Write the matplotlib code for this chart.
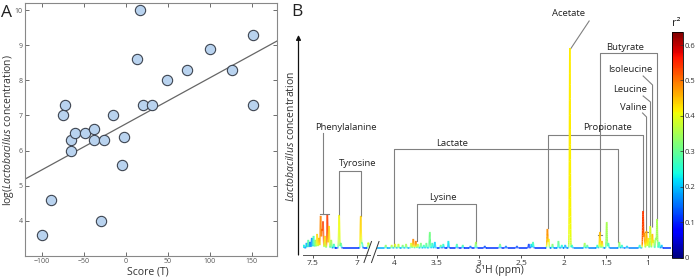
import numpy as np
import matplotlib
matplotlib.use('Agg')
import matplotlib.pyplot as plt
from matplotlib.collections import LineCollection
from matplotlib import colors as mcolors
from matplotlib.cm import ScalarMappable

plt.rcParams['font.family'] = ['Open Sans', 'DejaVu Sans']
plt.rcParams['mathtext.fontset'] = 'custom'
plt.rcParams['mathtext.rm'] = 'Open Sans'
plt.rcParams['mathtext.it'] = 'Open Sans:italic'

# ---------------- Panel A data ----------------
score_t = [-100, -89, -75, -72, -65, -65, -61, -48, -38, -38, -29, -26, -15, -5, -2,
           13, 17, 21, 31, 49, 73, 100, 126, 152, 152]
log_lacto = [3.6, 4.6, 7.0, 7.3, 6.3, 6.0, 6.5, 6.5, 6.6, 6.3, 4.0, 6.3, 7.0, 5.6, 6.4,
             8.6, 10.0, 7.3, 7.3, 8.0, 8.3, 8.9, 8.3, 9.3, 7.3]
fit_slope = 0.0131
fit_intercept = 6.76
a_xticks = [-100, -50, 0, 50, 100, 150]
a_yticks = [4, 5, 6, 7, 8, 9, 10]

# ---------------- Panel B data (intensity: acetate = 200) ----------------
left_peak_ppm = [7.60, 7.57, 7.55, 7.53, 7.51, 7.49, 7.47, 7.45, 7.43, 7.41, 7.395, 7.383,
                 7.36, 7.334, 7.315, 7.29, 7.26, 7.20, 7.18, 6.955, 6.94, 6.87, 6.86]
left_peak_height = [3, 5, 8, 6, 10, 12, 8, 14, 10, 32, 18, 26,
                    12, 33, 22, 8, 4, 33, 5, 32, 5, 5, 3]
left_peak_r2 = [0.25, 0.20, 0.30, 0.15, 0.17, 0.28, 0.35, 0.45, 0.48, 0.50, 0.52, 0.55,
                0.45, 0.55, 0.45, 0.38, 0.30, 0.42, 0.35, 0.45, 0.30, 0.47, 0.40]

right_peak_ppm = [4.10, 4.03, 3.99, 3.95, 3.90, 3.86, 3.80, 3.775, 3.745, 3.72, 3.685, 3.65,
                  3.62, 3.58, 3.55, 3.52, 3.45, 3.42, 3.36, 3.26, 3.19, 3.10, 3.035, 2.93,
                  2.75, 2.68, 2.55, 2.41, 2.38, 2.36, 2.19, 2.175, 2.13, 2.06, 2.02, 1.98,
                  1.925, 1.90, 1.75, 1.72, 1.60, 1.57, 1.545, 1.49, 1.47, 1.34, 1.31, 1.25,
                  1.10, 1.06, 1.045, 1.02, 1.00, 0.975, 0.95, 0.935, 0.91, 0.895, 0.87, 0.84]
right_peak_height = [3, 3, 4, 4, 3, 4, 5, 9, 7, 4, 5, 3,
                     5, 16, 5, 6, 3, 4, 7, 4, 3, 2, 6, 2,
                     4, 2, 2, 4, 4, 6, 19, 9, 4, 7, 3, 3,
                     200, 3, 5, 3, 3, 16, 7, 26, 5, 6, 3, 2,
                     3, 37, 15, 17, 10, 22, 14, 8, 10, 29, 6, 3]
right_peak_r2 = [0.40, 0.45, 0.47, 0.45, 0.38, 0.40, 0.45, 0.52, 0.55, 0.45, 0.35, 0.30,
                 0.33, 0.32, 0.28, 0.22, 0.38, 0.30, 0.25, 0.33, 0.35, 0.20, 0.40, 0.15,
                 0.38, 0.20, 0.15, 0.12, 0.25, 0.30, 0.50, 0.45, 0.38, 0.33, 0.28, 0.22,
                 0.42, 0.30, 0.40, 0.35, 0.30, 0.47, 0.50, 0.36, 0.30, 0.38, 0.30, 0.25,
                 0.30, 0.55, 0.50, 0.48, 0.45, 0.40, 0.47, 0.42, 0.35, 0.36, 0.30, 0.25]

# baseline r2 by region (ppm region upper edges, descending)
left_base_edges = [7.62, 7.45, 7.25, 6.90]
left_base_r2 = [0.20, 0.16, 0.11, 0.14]
right_base_edges = [4.21, 3.50, 2.20, 1.95, 1.10, 0.85]
right_base_r2 = [0.19, 0.11, 0.16, 0.16, 0.18, 0.11]

b_xticks_left = [7.5, 7]
b_xticks_right = [4, 3.5, 3, 2.5, 2, 1.5, 1]
cbar_ticks = [0, 0.1, 0.2, 0.3, 0.4, 0.5, 0.6]

W, H = 700, 280
fig = plt.figure(figsize=(7, 2.8), dpi=100)

def fx(px):
    return px / W

def fy(py):
    return 1 - py / H

# ---------------- Panel A ----------------
axA = fig.add_axes([fx(25), fy(256), fx(277) - fx(25), fy(3) - fy(256)])
axA.scatter(score_t, log_lacto, s=55, facecolor='#b9d3ef', edgecolor='#3d4450',
            linewidth=0.8, zorder=3)
xl = np.array([-120, 180])
axA.plot(xl, fit_slope * xl + fit_intercept, color='#666666', lw=0.9, zorder=2)
axA.set_xlim(-120, 180)
axA.set_ylim(3, 10.2)
axA.set_xticks(a_xticks)
axA.set_yticks(a_yticks)
axA.tick_params(direction='in', length=3, width=0.6, top=True, right=True,
                labelsize=5, colors='#555555', pad=1.5)
for s in axA.spines.values():
    s.set_color('#888888')
    s.set_linewidth(0.8)
fig.text(fx(148), fy(272), 'Score (T)', ha='center', va='center', fontsize=7.5, color='#333333')
fig.text(fx(9), fy(130), r'log($\it{Lactobacillus}$ concentration)', rotation=90,
         ha='center', va='center', fontsize=7.5, color='#333333')
fig.text(fx(6.5), fy(13), 'A', ha='center', va='center', fontsize=12.5, color='#222222')
fig.text(fx(297), fy(12), 'B', ha='center', va='center', fontsize=12.5, color='#222222')

# ---------------- Panel B ----------------
cmap = plt.get_cmap('jet')
norm = mcolors.Normalize(0, 0.636)
ymin, ymax = -6, 212
sigma = 0.0045

def draw_spectrum(ax, lo, hi, pp, ph, pr, edges, br2):
    x = np.linspace(hi, lo, 6000)
    pp = np.asarray(pp)
    ph = np.asarray(ph, float)
    pr = np.asarray(pr)
    G = ph[:, None] * np.exp(-0.5 * ((x[None, :] - pp[:, None]) / sigma) ** 2)
    y = 1.0 + G.sum(0)
    idx = np.clip(np.searchsorted(-np.asarray(edges), -x) - 1, 0, len(br2) - 1)
    base = np.asarray(br2)[idx]
    r2 = (base * 1.0 + (G * pr[:, None]).sum(0)) / (1.0 + G.sum(0))
    pts = np.array([x, y]).T.reshape(-1, 1, 2)
    segs = np.concatenate([pts[:-1], pts[1:]], axis=1)
    c = cmap(norm(0.5 * (r2[:-1] + r2[1:])))
    lc = LineCollection(segs, colors=c, linewidths=1.1)
    ax.add_collection(lc)
    ax.set_xlim(hi, lo)
    ax.set_ylim(ymin, ymax)
    for k in ['top', 'right', 'left']:
        ax.spines[k].set_visible(False)
    ax.spines['bottom'].set_color('#555555')
    ax.spines['bottom'].set_linewidth(0.7)
    ax.set_yticks([])
    ax.tick_params(axis='x', direction='out', length=2, width=0.6, labelsize=6,
                   colors='#333333', pad=1.5)
    ax.patch.set_visible(False)

axL = fig.add_axes([fx(303), fy(255), fx(370) - fx(303), fy(37) - fy(255)])
draw_spectrum(axL, 6.85, 7.61, left_peak_ppm, left_peak_height, left_peak_r2,
              left_base_edges, left_base_r2)
axL.set_xticks(b_xticks_left)
axL.set_xticklabels(['7.5', '7'])

axR = fig.add_axes([fx(377.3), fy(255), fx(671) - fx(377.3), fy(37) - fy(255)])
draw_spectrum(axR, 0.73, 4.2, right_peak_ppm, right_peak_height, right_peak_r2,
              right_base_edges, right_base_r2)
axR.set_xticks(b_xticks_right)
axR.set_xticklabels(['4', '3.5', '3', '2.5', '2', '1.5', '1'])

fig.text(fx(499), fy(271), 'δ¹H (ppm)', ha='center', va='center', fontsize=7.5, color='#333333')
fig.text(fx(291), fy(137), r'$\it{Lactobacillus}$ concentration', rotation=90,
         ha='center', va='center', fontsize=7.5, color='#333333')

# overlay in pixel coords for arrow and axis break
ov = fig.add_axes([0, 0, 1, 1])
ov.set_xlim(0, W)
ov.set_ylim(H, 0)
ov.axis('off')
ov.patch.set_visible(False)
ov.annotate('', xy=(298.5, 35), xytext=(298.5, 255),
            arrowprops=dict(arrowstyle='-|>', color='#111111', lw=0.9,
                            mutation_scale=7, shrinkA=0, shrinkB=0))
ov.plot([364, 371.5], [262.5, 241.5], color='#333333', lw=0.7)
ov.plot([371.5, 379], [262.5, 241.5], color='#333333', lw=0.7)

# annotations (data coords; intensity units)
ac = '#808080'
alw = 0.8
afs = 6.8

def ln(ax, xs, ys):
    ax.plot(xs, ys, color=ac, lw=alw, clip_on=False, zorder=1)

def lab(ax, x, y, t):
    ax.text(x, y, t, ha='center', va='center', fontsize=afs, color='#222222', clip_on=False)

# Phenylalanine
ln(axL, [7.42, 7.31], [35, 35])
ln(axL, [7.38, 7.38], [35, 116])
lab(axL, 7.125, 122, 'Phenylalanine')
# Tyrosine
ln(axL, [7.20, 7.20, 6.955, 6.955], [34, 78, 78, 33])
lab(axL, 6.99, 85, 'Tyrosine')
# Lactate
ln(axR, [4.0, 4.0, 1.355, 1.355], [3, 100, 100, 7])
lab(axR, 3.322, 106, 'Lactate')
# Lysine
ln(axR, [3.736, 3.736, 3.035, 3.035], [8, 45, 45, 6])
lab(axR, 3.425, 52, 'Lysine')
# Propionate
ln(axR, [2.18, 2.18, 1.059, 1.059], [21, 114, 114, 37])
lab(axR, 1.476, 121, 'Propionate')
# Butyrate
ln(axR, [1.57, 1.57, 0.894, 0.894], [14, 196, 196, 29])
ln(axR, [1.59, 1.55], [14, 14])
lab(axR, 1.276, 202, 'Butyrate')
# Isoleucine / Leucine / Valine
ln(axR, [1.059, 0.948, 0.948], [173, 164, 22])
lab(axR, 1.216, 180, 'Isoleucine')
ln(axR, [1.059, 0.972, 0.972], [153, 147, 16])
lab(axR, 1.213, 160, 'Leucine')
ln(axR, [1.066, 1.019, 1.019], [136, 132, 17])
ln(axR, [1.035, 1.003], [17, 17])
lab(axR, 1.181, 142, 'Valine')
# Acetate
ln(axR, [1.697, 1.917], [228, 200])
lab(axR, 1.94, 235, 'Acetate')

# colorbar
cax = fig.add_axes([fx(672), fy(257.7), fx(682.7) - fx(672), fy(32.3) - fy(257.7)])
sm = ScalarMappable(norm=norm, cmap=cmap)
cb = fig.colorbar(sm, cax=cax, ticks=cbar_ticks)
cb.ax.set_yticklabels(['0', '0.1', '0.2', '0.3', '0.4', '0.5', '0.6'])
cb.ax.tick_params(labelsize=5.5, length=2, width=0.5, direction='in', pad=1.5, colors='#333333')
cb.outline.set_linewidth(0.6)
fig.text(fx(676), fy(24), 'r²', ha='center', va='center', fontsize=8, color='#222222')

fig.savefig('out.png', dpi=100)
